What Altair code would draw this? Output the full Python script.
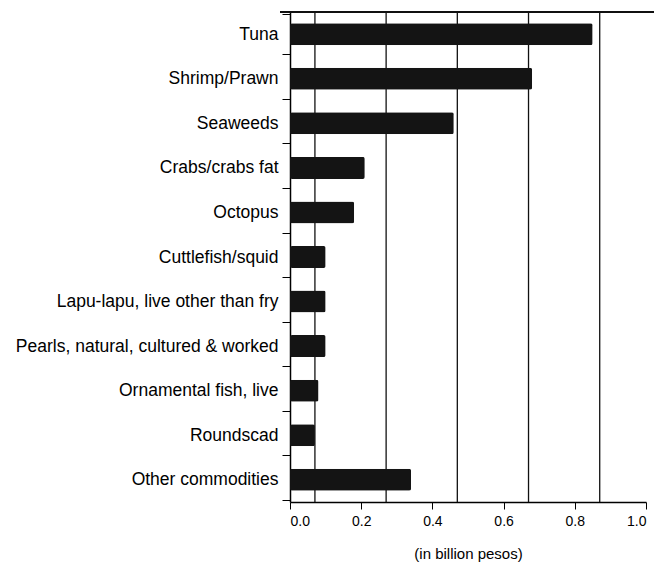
import altair as alt
import pandas as pd

categories = ["Tuna", "Shrimp/Prawn", "Seaweeds", "Crabs/crabs fat", "Octopus",
              "Cuttlefish/squid", "Lapu-lapu, live other than fry",
              "Pearls, natural, cultured & worked", "Ornamental fish, live",
              "Roundscad", "Other commodities"]
values = [0.85, 0.68, 0.46, 0.21, 0.18, 0.10, 0.10, 0.10, 0.08, 0.07, 0.34]
tick_values = [0.0, 0.2, 0.4, 0.6, 0.8, 1.0]
grid_values = [0.07, 0.27, 0.47, 0.67, 0.87]

df = pd.DataFrame({"commodity": categories, "value": values})
grid = pd.DataFrame({"g": grid_values})

W, H = 356, 490
FONT = "Liberation Sans"

x_scale = alt.Scale(domain=[0, 1.0], nice=False, zero=True)


def x_axis():
    return alt.Axis(values=tick_values, format=".1f", grid=False,
                    labelFont=FONT, labelFontSize=14, labelColor="#000",
                    titleFont=FONT, titleFontSize=15, titleFontWeight="normal",
                    titleColor="#000", titlePadding=18, tickSize=7,
                    tickColor="#000", domainColor="#000", domainWidth=1.5,
                    labelPadding=5)


rules = alt.Chart(grid).mark_rule(color="#111", strokeWidth=1.3).encode(
    x=alt.X("g:Q", scale=x_scale, axis=x_axis(), title="(in billion pesos)")
)

top_line = alt.Chart(grid).mark_rule(color="#111", strokeWidth=1.5).encode(
    y=alt.value(0), x=alt.value(-10), x2=alt.value(W + 8)
)

bars = alt.Chart(df).mark_bar(color="#141414", size=22, cornerRadius=2).encode(
    y=alt.Y("commodity:N", sort=categories, title=None,
            axis=alt.Axis(labelFont=FONT, labelFontSize=17.5, labelColor="#000",
                          labelPadding=4, tickBand="extent", tickSize=8,
                          tickColor="#000", domainColor="#000", domainWidth=1.5,
                          labelLimit=400)),
    x=alt.X("value:Q", scale=x_scale, axis=x_axis(), title="(in billion pesos)")
)

chart = alt.layer(rules, bars, top_line).properties(
    width=W, height=H,
    autosize=alt.AutoSizeParams(type="none"),
    padding={"left": 282, "top": 4, "right": 10, "bottom": 60},
    background="white"
).configure_view(stroke=None)

chart.save("out.html", embed_options={"renderer": "svg", "actions": False})
